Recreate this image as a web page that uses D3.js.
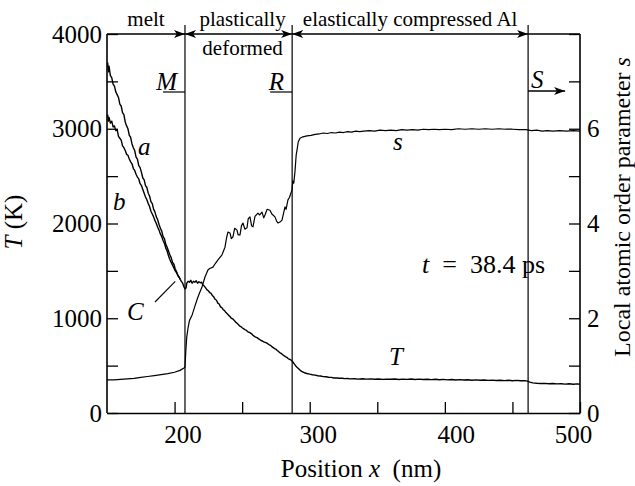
<!DOCTYPE html>
<html>
<head>
<meta charset="utf-8">
<script src="https://cdn.jsdelivr.net/npm/d3@7"></script>
<style>
  html, body { margin: 0; padding: 0; background: #fff; }
  svg, svg text { font-family: "Liberation Serif", "Times New Roman", serif; }
  svg { display: block; }
</style>
</head>
<body>
<svg id="chart"></svg>
<script>
// ---- data ----
const xTicks = [200, 250, 300, 350, 400, 450, 500];
const xLabels = [200, 300, 400, 500];
const tTicks = [500, 1000, 1500, 2000, 2500, 3000, 3500, 4000];
const tLabels = [0, 1000, 2000, 3000, 4000];
const sTicks = [1, 2, 3, 4, 5, 6, 7, 8];
const sLabels = [0, 2, 4, 6];

// region boundaries M, R, S (nm)
const boundaries = [207.7, 287, 461.6];
const regionNames = ['melt', 'plastically', 'elastically compressed Al'];

// temperature profile a (K)
const curveA = [
  [150.5, 3700], [151, 3600], [151.5, 3660], [152.5, 3560], [153.5, 3540], [154.5, 3470],
  [155.5, 3450], [156.5, 3390], [157.5, 3360], [158.5, 3330], [159.5, 3260], [160.5, 3240],
  [161.5, 3170], [162.5, 3150], [163.5, 3070], [164.5, 3030], [165.5, 3000], [166.5, 2930],
  [167.5, 2910], [168.5, 2840], [169.5, 2800], [170.5, 2770], [171.5, 2700], [172.5, 2680],
  [173.5, 2610], [174.5, 2590], [175.5, 2540], [176.5, 2480], [177.5, 2460], [178.5, 2400],
  [179.5, 2380], [180.5, 2320], [181.5, 2290], [182.5, 2230], [183.5, 2210], [184.5, 2150],
  [185.5, 2120], [186.5, 2070], [187.5, 2040], [188.5, 1990], [189.5, 1950], [190.5, 1920],
  [191.5, 1860], [192.5, 1840], [193.5, 1780], [194.5, 1750], [195.5, 1710], [196.5, 1670],
  [197.5, 1640], [198.5, 1590], [199.5, 1570], [200.5, 1520], [201.5, 1490], [202.5, 1450],
  [203.5, 1430], [204.2, 1410]
];

// temperature profile b (K)
const curveB = [
  [150.5, 3150], [151, 3080], [151.5, 3120], [152.5, 3060], [153.5, 3080], [154.5, 3020],
  [155.5, 3030], [156.5, 2980], [157.5, 2990], [158.5, 2920], [159.5, 2900], [160.5, 2880],
  [161.5, 2820], [162.5, 2800], [163.5, 2770], [164.5, 2730], [165.5, 2720], [166.5, 2680],
  [167.5, 2650], [168.5, 2630], [169.5, 2580], [170.5, 2560], [171.5, 2520], [172.5, 2490],
  [173.5, 2470], [174.5, 2420], [175.5, 2400], [176.5, 2360], [177.5, 2320], [178.5, 2280],
  [179.5, 2250], [180.5, 2210], [181.5, 2180], [182.5, 2130], [183.5, 2100], [184.5, 2070],
  [185.5, 2030], [186.5, 2000], [187.5, 1960], [188.5, 1930], [189.5, 1890], [190.5, 1860],
  [191.5, 1820], [192.5, 1790], [193.5, 1740], [194.5, 1710], [195.5, 1660], [196.5, 1620],
  [197.5, 1590], [198.5, 1560], [199.5, 1530], [200.5, 1500], [201.5, 1480], [202.5, 1450],
  [203.5, 1430], [204.2, 1410]
];

// temperature T beyond the point C (K)
const tempT = [
  [204.2, 1410], [205, 1390], [206, 1370], [207, 1330], [207.7, 1310], [208.5, 1320],
  [209, 1370], [210, 1390], [211, 1380], [212, 1400], [213, 1370], [214, 1390], [215, 1380],
  [216, 1395], [217, 1370], [218, 1385], [219, 1375], [220, 1380], [221, 1350], [222, 1340],
  [223, 1320], [224, 1300], [225, 1290], [226, 1270], [227, 1262], [228, 1240], [229, 1225],
  [230, 1200], [231, 1190], [232, 1160], [233, 1150], [234, 1120], [235, 1112], [236, 1090],
  [237, 1080], [238, 1060], [239, 1048], [240, 1030], [241, 1018], [242, 1000], [243, 994],
  [244, 980], [245, 962], [246, 950], [247, 936], [248, 920], [249, 912], [250, 900],
  [252, 880], [253, 874], [254, 860], [256, 845], [257, 836], [258, 820], [260, 800],
  [261, 796], [262, 785], [264, 765], [265, 760], [266, 750], [268, 740], [270, 720],
  [271, 714], [272, 700], [274, 680], [275, 674], [276, 660], [278, 635], [279, 628],
  [280, 615], [282, 595], [283, 588], [284, 575], [286, 560], [287, 548], [288, 530],
  [289, 510], [290, 490], [291, 478], [292, 465], [293, 450], [294, 440], [296, 425],
  [298, 417], [300, 410], [302, 404], [304, 400], [306, 393], [308, 390], [310, 384],
  [312, 383], [314, 377], [316, 376], [318, 370], [320, 369], [322, 366], [324, 367],
  [326, 363], [328, 364], [330, 360], [333, 362], [336, 358], [339, 361], [342, 357],
  [345, 360], [348, 356], [351, 359], [354, 355], [357, 358], [360, 356], [363, 359],
  [366, 354], [369, 357], [372, 355], [375, 359], [378, 354], [381, 357], [384, 353],
  [387, 356], [390, 352], [393, 356], [396, 351], [399, 355], [402, 350], [405, 354],
  [408, 349], [411, 352], [414, 348], [417, 351], [420, 346], [423, 350], [426, 345],
  [429, 348], [432, 344], [435, 347], [438, 343], [441, 346], [444, 342], [447, 345],
  [450, 341], [453, 344], [456, 340], [459, 342], [461, 336], [463, 326], [465, 318],
  [468, 314], [471, 311], [474, 313], [477, 309], [480, 311], [483, 307], [486, 309],
  [489, 305], [492, 308], [495, 304], [498, 307], [500, 305]
];

// local atomic order parameter s
const orderS = [
  [150, 0.70], [155, 0.70], [160, 0.71], [165, 0.72], [170, 0.73], [175, 0.75], [180, 0.77],
  [185, 0.79], [190, 0.81], [195, 0.83], [200, 0.86], [204, 0.90], [207, 0.95], [207.7, 0.97],
  [208.3, 1.3], [209, 1.6], [210, 1.8], [211, 1.95], [213, 2.07], [215, 2.25], [216.6, 2.39],
  [218, 2.5], [220.3, 2.66], [222.5, 2.87], [224.7, 3.02], [226, 3.05], [228.4, 3.08],
  [230, 3.15], [232.1, 3.23], [235.1, 3.34], [237.3, 3.50], [238.5, 3.70], [239.5, 3.82],
  [241, 3.80], [242, 3.68], [243.2, 3.72], [244.5, 3.90], [246.2, 3.86], [247, 3.76],
  [248.4, 3.76], [249.5, 3.95], [250.6, 4.01], [252, 3.88], [253.6, 3.91], [254.5, 4.10],
  [255.8, 4.14], [257, 3.95], [258, 3.93], [259.5, 4.15], [261.7, 4.22], [263, 4.18],
  [264.7, 4.24], [266, 4.12], [266.9, 4.18], [268.5, 4.30], [270.6, 4.28], [272, 4.20],
  [274.3, 4.14], [275.5, 4.05], [276.5, 4.01], [278, 4.03], [279.5, 4.07], [280.5, 4.20],
  [281.7, 4.35], [282.5, 4.30], [283.9, 4.50], [285, 4.55], [286.9, 4.71], [287.5, 4.90],
  [288.2, 4.85], [289.1, 5.10], [290, 5.45], [290.6, 5.55], [291.5, 5.72], [292.8, 5.80],
  [295, 5.83], [298, 5.85], [301, 5.86], [304, 5.88], [307, 5.89], [310, 5.91], [313, 5.90],
  [316, 5.92], [319, 5.91], [322, 5.93], [325, 5.92], [328, 5.94], [331, 5.93], [334, 5.95],
  [337, 5.94], [340, 5.95], [344, 5.96], [348, 5.95], [352, 5.97], [356, 5.96], [360, 5.97],
  [364, 5.96], [368, 5.98], [372, 5.97], [376, 5.98], [380, 5.97], [384, 5.99], [388, 5.98],
  [392, 5.99], [396, 5.98], [400, 5.99], [405, 5.98], [410, 6.00], [415, 5.99], [420, 6.00],
  [425, 5.99], [430, 6.00], [435, 5.99], [440, 6.00], [445, 5.99], [450, 5.99], [455, 5.98],
  [460, 5.98], [464, 5.96], [468, 5.97], [472, 5.95], [476, 5.96], [480, 5.95], [485, 5.96],
  [490, 5.95], [495, 5.96], [500, 5.95]
];

// ---- layout ----
const width = 635, height = 486;
const margin = { top: 34, right: 55, bottom: 73, left: 107 };

const svg = d3.select('#chart')
  .attr('width', width)
  .attr('height', height)
  .attr('viewBox', `0 0 ${width} ${height}`);

const x = d3.scaleLinear().domain([150, 500]).range([margin.left, width - margin.right]);
const yT = d3.scaleLinear().domain([0, 4000]).range([height - margin.bottom, margin.top]);
const yS = d3.scaleLinear().domain([0, 8]).range([height - margin.bottom, margin.top]);

const bottomY = height - margin.bottom;
const topY = margin.top;

// arrowhead
svg.append('defs').append('marker')
  .attr('id', 'arrow')
  .attr('viewBox', '0 -5 10 10')
  .attr('refX', 10).attr('refY', 0)
  .attr('markerWidth', 11).attr('markerHeight', 11)
  .attr('markerUnits', 'userSpaceOnUse')
  .attr('orient', 'auto-start-reverse')
  .append('path')
  .attr('d', 'M0,-3.6L10,0L0,3.6L2.6,0Z')
  .attr('fill', '#000');

// left axis (T)
const leftAxis = svg.append('g')
  .attr('transform', `translate(${margin.left},0)`)
  .call(d3.axisLeft(yT).tickValues([0, ...tTicks]).tickSizeInner(-11).tickSizeOuter(0)
    .tickPadding(5).tickFormat(d => tLabels.includes(d) ? d : ''));

// right axis (s)
const rightAxis = svg.append('g')
  .attr('transform', `translate(${width - margin.right},0)`)
  .call(d3.axisRight(yS).tickValues([0, ...sTicks]).tickSizeInner(-11).tickSizeOuter(0)
    .tickPadding(7).tickFormat(d => sLabels.includes(d) ? d : ''));

// bottom axis
const labelNudge = { 200: 8, 300: 8, 400: 11, 500: -7 };
const bottomAxis = svg.append('g')
  .attr('transform', `translate(0,${bottomY})`)
  .call(d3.axisBottom(x).tickValues(xTicks).tickSizeInner(-11).tickSizeOuter(0)
    .tickPadding(12).tickFormat(d => xLabels.includes(d) ? d : ''));
bottomAxis.selectAll('.tick text').attr('dx', d => labelNudge[d] || 0);

[leftAxis, rightAxis, bottomAxis].forEach(ax => {
  ax.attr('font-family', null).attr('font-size', 25);
  ax.select('.domain').attr('stroke', '#000').attr('stroke-width', 1.6);
  ax.selectAll('.tick line').attr('stroke', '#000').attr('stroke-width', 1.3);
  ax.selectAll('.tick text').attr('fill', '#000');
});
leftAxis.select('.domain').attr('d', `M0,${topY}V${bottomY}`);
rightAxis.select('.domain').attr('d', `M0,${topY}V${bottomY}`);

// region boundary lines (M, R, S)
svg.append('g').selectAll('line')
  .data(boundaries)
  .join('line')
  .attr('x1', d => x(d)).attr('x2', d => x(d))
  .attr('y1', topY - 9).attr('y2', bottomY)
  .attr('stroke', '#000').attr('stroke-width', 1.2);

// top arrows spanning each region
const spans = [[150, boundaries[0]], [boundaries[0], boundaries[1]], [boundaries[1], boundaries[2]]];
svg.append('g').selectAll('line')
  .data(spans)
  .join('line')
  .attr('x1', d => x(d[0])).attr('x2', d => x(d[1]))
  .attr('y1', topY).attr('y2', topY)
  .attr('stroke', '#000').attr('stroke-width', 1.6)
  .attr('marker-end', 'url(#arrow)')
  .attr('marker-start', (d, i) => i > 0 ? 'url(#arrow)' : null);

svg.append('line')
  .attr('x1', x(boundaries[2])).attr('x2', x(500))
  .attr('y1', topY).attr('y2', topY)
  .attr('stroke', '#000').attr('stroke-width', 1.6);

// region names
svg.append('g').selectAll('text')
  .data(regionNames)
  .join('text')
  .attr('x', (d, i) => (x(spans[i][0]) + x(spans[i][1])) / 2 + (i === 1 ? 4 : 0))
  .attr('y', 26)
  .attr('text-anchor', 'middle')
  .attr('font-size', 21)
  .text(d => d);

svg.append('text')
  .attr('x', (x(spans[1][0]) + x(spans[1][1])) / 2 + 4)
  .attr('y', 55)
  .attr('text-anchor', 'middle')
  .attr('font-size', 21)
  .text('deformed');

// M and R markers: short ledge left of the line with italic letter
[['M', boundaries[0]], ['R', boundaries[1]]].forEach(([lab, b]) => {
  svg.append('line')
    .attr('x1', x(b) - 22).attr('x2', x(b))
    .attr('y1', 92).attr('y2', 92)
    .attr('stroke', '#000').attr('stroke-width', 1.2);
  svg.append('text')
    .attr('x', x(b) - 8).attr('y', 90)
    .attr('text-anchor', 'end')
    .attr('font-size', 25).attr('font-style', 'italic')
    .text(lab);
});

// S marker: arrow heading right
svg.append('line')
  .attr('x1', x(boundaries[2])).attr('x2', x(boundaries[2]) + 37)
  .attr('y1', 91).attr('y2', 91)
  .attr('stroke', '#000').attr('stroke-width', 1.4)
  .attr('marker-end', 'url(#arrow)');
svg.append('text')
  .attr('x', x(boundaries[2]) + 3).attr('y', 88)
  .attr('font-size', 25).attr('font-style', 'italic')
  .text('S');

// curves
const lineT = d3.line().x(d => x(d[0])).y(d => yT(d[1]));
const lineS = d3.line().x(d => x(d[0])).y(d => yS(d[1]));

[curveA, curveB, tempT].forEach(c => {
  svg.append('path')
    .datum(c)
    .attr('fill', 'none')
    .attr('stroke', '#000')
    .attr('stroke-width', 1.4)
    .attr('stroke-linejoin', 'round')
    .attr('d', lineT);
});

svg.append('path')
  .datum(orderS)
  .attr('fill', 'none')
  .attr('stroke', '#000')
  .attr('stroke-width', 1.2)
  .attr('stroke-linejoin', 'round')
  .attr('d', lineS);

// curve labels
const italics = [
  { t: 'a', x: 138, y: 155 },
  { t: 'b', x: 113, y: 210 },
  { t: 'C', x: 127, y: 320 },
  { t: 's', x: 393, y: 150 },
  { t: 'T', x: 389, y: 365 }
];
svg.append('g').selectAll('text')
  .data(italics)
  .join('text')
  .attr('x', d => d.x).attr('y', d => d.y)
  .attr('font-size', 25).attr('font-style', 'italic')
  .text(d => d.t);

// leader from C to the crossing point
svg.append('line')
  .attr('x1', 155).attr('y1', 302)
  .attr('x2', x(curveA[curveA.length - 1][0]) - 5).attr('y2', yT(curveA[curveA.length - 1][1]) + 2)
  .attr('stroke', '#000').attr('stroke-width', 1.1);

// time stamp
const stamp = svg.append('text')
  .attr('x', 422).attr('y', 273)
  .attr('font-size', 26);
stamp.append('tspan').attr('font-style', 'italic').text('t');
stamp.append('tspan').text('\u2002=\u200238.4 ps');

// axis titles
const xTitle = svg.append('text')
  .attr('x', 361).attr('y', 477)
  .attr('text-anchor', 'middle')
  .attr('font-size', 25);
xTitle.append('tspan').text('Position ');
xTitle.append('tspan').attr('font-style', 'italic').text('x');
xTitle.append('tspan').text('\u00a0 (nm)');

const yTitle = svg.append('text')
  .attr('transform', 'translate(22,222) rotate(-90)')
  .attr('text-anchor', 'middle')
  .attr('font-size', 25);
yTitle.append('tspan').attr('font-style', 'italic').text('T');
yTitle.append('tspan').text(' (K)');

const sTitle = svg.append('text')
  .attr('transform', 'translate(630,207) rotate(-90)')
  .attr('text-anchor', 'middle')
  .attr('font-size', 24);
sTitle.append('tspan').text('Local atomic order parameter ');
sTitle.append('tspan').attr('font-style', 'italic').text('s');
</script>
</body>
</html>
